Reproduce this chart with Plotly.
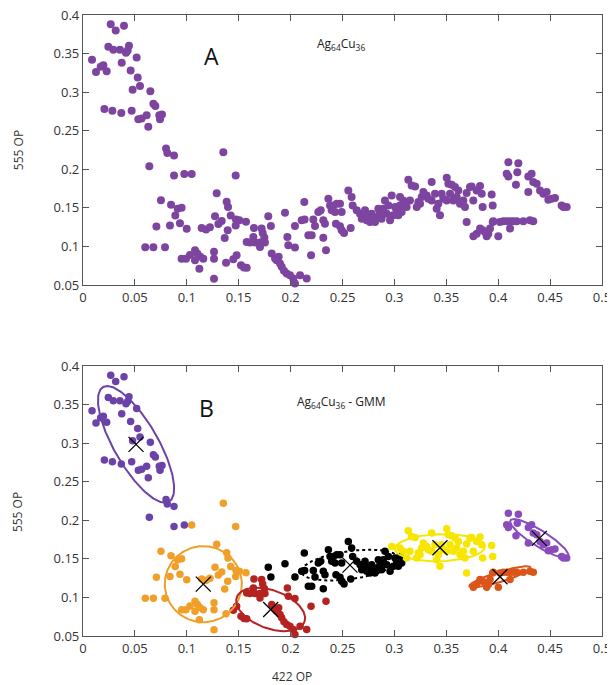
import numpy as np
import plotly.graph_objects as go

# ---------------- data (422 OP, 555 OP) per GMM cluster ----------------
purple1_x = [0.0267,0.0395,0.0315,0.0244,0.0292,0.0356,0.0443,0.0414,0.0430,0.0517,0.0373,0.0087,0.0125,0.0170,
             0.0196,0.0228,0.0459,0.0527,0.0549,0.0478,0.0649,0.0678,0.0697,0.0206,0.0283,0.0369,0.0469,0.0533,
             0.0565,0.0613,0.0629,0.0735,0.0761,0.0742,0.0800,0.0812,0.0877,0.0639,0.0877,0.0976]
purple1_y = [0.388,0.386,0.380,0.359,0.355,0.355,0.360,0.351,0.354,0.345,0.338,0.342,0.326,0.333,
             0.335,0.327,0.328,0.319,0.308,0.303,0.301,0.285,0.282,0.278,0.276,0.273,0.276,0.265,
             0.266,0.270,0.255,0.270,0.271,0.265,0.227,0.221,0.218,0.204,0.192,0.194]

orange_x = [0.1047,0.1352,0.1471,0.1288,0.0751,0.0848,0.0912,0.0950,0.0889,0.0934,0.0999,0.0707,0.0838,0.0600,
            0.0678,0.0790,0.0950,0.0992,0.1031,0.1079,0.1101,0.1127,0.1079,0.1121,0.1159,0.1262,0.1262,0.1262,
            0.1378,0.1185,0.1223,0.1143,0.1272,0.1304,0.1336,0.1394,0.1365,0.1384,0.1397,0.1423,0.1474,0.1471,
            0.1506,0.1570]
orange_y = [0.194,0.222,0.192,0.169,0.160,0.154,0.149,0.150,0.140,0.130,0.123,0.126,0.127,0.099,
            0.099,0.099,0.084,0.084,0.089,0.095,0.091,0.087,0.082,0.071,0.084,0.058,0.093,0.084,
            0.079,0.122,0.125,0.124,0.139,0.129,0.133,0.121,0.111,0.158,0.151,0.140,0.135,0.127,
            0.134,0.132]

red_x = [0.1522,0.1551,0.1577,0.1480,0.1448,0.1647,0.1721,0.1731,0.1641,0.1577,0.1609,0.1657,0.1705,0.1753,
         0.1705,0.1747,0.1818,0.1850,0.1885,0.1898,0.1914,0.1962,0.1994,0.2026,0.2042,0.2074,0.2091,0.2155,
         0.1978,0.2042,0.1969,0.2197,0.2341,0.1866,0.1936]
red_y = [0.0757,0.0727,0.0723,0.0886,0.0835,0.1239,0.1231,0.1175,0.1123,0.1059,0.1050,0.1050,0.1050,0.1050,
         0.0994,0.1115,0.0908,0.0843,0.0865,0.0779,0.0736,0.0649,0.0628,0.0585,0.0520,0.0499,0.0628,0.0585,
         0.1016,0.0985,0.1123,0.0886,0.0950,0.0822,0.0684]

black_x = [0.1785,0.1810,0.1946,0.2132,0.2042,0.2107,0.2135,0.2171,0.2203,0.2219,0.2235,0.2267,0.2290,0.2315,
           0.2331,0.2315,0.2364,0.2380,0.2396,0.2412,0.2444,0.2476,0.2492,0.2428,0.2437,0.2476,0.2492,0.2515,
           0.2556,0.2588,0.2579,0.2598,0.2637,0.2669,0.2701,0.2733,0.2765,0.2797,0.2829,0.2861,0.2893,0.2909,
           0.2942,0.2990,0.3022,0.2685,0.2717,0.2749,0.2781,0.2813,0.2845,0.2877,0.2926,0.2958,0.3006,0.3038,
           0.3054,0.3070]
black_y = [0.1390,0.1265,0.1438,0.1575,0.1265,0.1338,0.1350,0.1145,0.1145,0.1348,0.1265,0.1446,0.1468,0.1339,
           0.1295,0.1113,0.1618,0.1532,0.1468,0.1532,0.1554,0.1554,0.1446,0.1446,0.1295,0.1261,0.1209,0.1175,
           0.1726,0.1640,0.1240,0.1532,0.1468,0.1425,0.1382,0.1339,0.1317,0.1360,0.1382,0.1425,0.1489,0.1597,
           0.1532,0.1403,0.1468,0.1360,0.1468,0.1403,0.1425,0.1317,0.1489,0.1360,0.1425,0.1339,0.1511,0.1403,
           0.1532,0.1446]

yellow_x = [0.2974,0.3054,0.3086,0.3118,0.3134,0.3166,0.3199,0.3231,0.3247,0.3263,0.3279,0.3311,0.3327,0.3359,
            0.3391,0.3423,0.3439,0.3455,0.3504,0.3520,0.3552,0.3568,0.3584,0.3600,0.3632,0.3664,0.3680,0.3696,
            0.3696,0.3728,0.3744,0.3825,0.3841,0.3850,0.3937,0.3947,0.3150,0.3215,0.3359,0.3471,0.3536,0.3616,
            0.3760,0.3792,0.3504,0.3407]
yellow_y = [0.1661,0.1640,0.1597,0.1511,0.1864,0.1791,0.1778,0.1575,0.1554,0.1640,0.1705,0.1661,0.1618,0.1834,
            0.1683,0.1554,0.1403,0.1683,0.1890,0.1812,0.1799,0.1597,0.1769,0.1640,0.1554,0.1597,0.1511,0.1692,
            0.1317,0.1769,0.1778,0.1782,0.1683,0.1511,0.1674,0.1532,0.1597,0.1511,0.1597,0.1618,0.1683,0.1726,
            0.1597,0.1726,0.1597,0.1489]

orangered_x = [0.3761,0.3793,0.3825,0.3850,0.3873,0.3889,0.3905,0.3921,0.3947,0.4001,0.4017,0.4050,0.4082,
               0.4114,0.4114,0.4146,0.4178,0.4242,0.4306,0.4338,0.3953]
orangered_y = [0.1132,0.1166,0.1231,0.1209,0.1188,0.1132,0.1166,0.1231,0.1317,0.1132,0.1317,0.1326,0.1326,
               0.1326,0.1231,0.1326,0.1326,0.1326,0.1339,0.1326,0.1326]

purple2_x = [0.4098,0.4194,0.4184,0.4082,0.4098,0.4171,0.4290,0.4322,0.4290,0.4371,0.4403,0.4435,0.4467,
             0.4483,0.4515,0.4547,0.4611,0.4660,0.4628,0.4338]
purple2_y = [0.2092,0.2079,0.1963,0.1942,0.1907,0.1799,0.1907,0.1942,0.1705,0.1812,0.1726,0.1683,0.1705,
             0.1606,0.1618,0.1627,0.1532,0.1511,0.1511,0.1834]

# GMM component means and ellipse axis vectors (data units)
cluster_names = ["purple1", "orange", "red", "black", "yellow", "orangered", "purple2"]
mean_x = [0.0511, 0.1159, 0.1808, 0.2572, 0.3439, 0.4017, 0.4396]
mean_y = [0.2984, 0.1172, 0.0844, 0.1419, 0.1644, 0.1267, 0.1765]
axis_u = [(0.0318, -0.0742), (0.0371, 0.0), (0.0326, -0.0160), (0.0467, 0.0088),
          (0.0434, 0.0015), (0.0295, 0.0122), (0.0278, -0.0234)]
axis_v = [(-0.01835, -0.01427), (0.0, -0.0493), (-0.0063, -0.0232), (0.0019, -0.0180),
          (0.0, -0.0175), (0.0014, -0.0062), (-0.0041, -0.0088)]

x_ticks = [0, 0.05, 0.1, 0.15, 0.2, 0.25, 0.3, 0.35, 0.4, 0.45, 0.5]
y_ticks = [0.05, 0.1, 0.15, 0.2, 0.25, 0.3, 0.35, 0.4]

# ---------------- styling ----------------
cluster_x = [purple1_x, orange_x, red_x, black_x, yellow_x, orangered_x, purple2_x]
cluster_y = [purple1_y, orange_y, red_y, black_y, yellow_y, orangered_y, purple2_y]
cluster_colors = ["#6b42a8", "#f0a02a", "#b52222", "#000000", "#f7e600", "#dc5518", "#8a4cbc"]
ellipse_dash = ["solid", "solid", "solid", "dot", "solid", "solid", "solid"]
top_color = "#7d45a0"
FONT = "Open Sans"

fig = go.Figure()

all_x = sum(cluster_x, [])
all_y = sum(cluster_y, [])
fig.add_trace(go.Scatter(x=all_x, y=all_y, mode="markers", xaxis="x", yaxis="y",
                         marker=dict(color=top_color, size=8), cliponaxis=False, showlegend=False))

t = np.linspace(0, 2 * np.pi, 200)
for i in range(len(cluster_names)):
    fig.add_trace(go.Scatter(x=cluster_x[i], y=cluster_y[i], mode="markers", xaxis="x2", yaxis="y2",
                             marker=dict(color=cluster_colors[i], size=7.5), cliponaxis=False, showlegend=False))
for i in range(len(cluster_names)):
    ex = mean_x[i] + axis_u[i][0] * np.cos(t) + axis_v[i][0] * np.sin(t)
    ey = mean_y[i] + axis_u[i][1] * np.cos(t) + axis_v[i][1] * np.sin(t)
    fig.add_trace(go.Scatter(x=ex, y=ey, mode="lines", xaxis="x2", yaxis="y2",
                             line=dict(color=cluster_colors[i], width=2, dash=ellipse_dash[i]),
                             showlegend=False, hoverinfo="skip"))
fig.add_trace(go.Scatter(x=mean_x, y=mean_y, mode="markers", xaxis="x2", yaxis="y2",
                         marker=dict(symbol="x-thin", size=15, line=dict(color="black", width=1.3)),
                         showlegend=False))

axis_common = dict(showline=True, linecolor="#555555", linewidth=1.3, mirror="ticks", ticks="inside",
                   ticklen=6, tickcolor="#555555", showgrid=False, zeroline=False, automargin=False,
                   ticklabeloverflow="allow",
                   tickfont=dict(family=FONT, size=13, color="#333333"))

# the page body adds an 8 px offset, so the figure is 8 px smaller on each side
fig.update_layout(
    width=607, height=677,
    margin=dict(l=75, r=13, t=7, b=49, autoexpand=False),
    paper_bgcolor="white", plot_bgcolor="white",
    font=dict(family=FONT, color="#333333"),
    xaxis=dict(domain=[0, 1], anchor="y", range=[0, 0.5], tickvals=x_ticks, **axis_common),
    yaxis=dict(domain=[0.5652, 1], anchor="x", range=[0.05, 0.4], tickvals=y_ticks, **axis_common),
    xaxis2=dict(domain=[0, 1], anchor="y2", range=[0, 0.5], tickvals=x_ticks, **axis_common),
    yaxis2=dict(domain=[0, 0.4348], anchor="x2", range=[0.05, 0.4], tickvals=y_ticks, **axis_common),
)

ann = [
    dict(text="A", x=0.124, y=0.347, xref="x", yref="y", font=dict(size=23, color="#111")),
    dict(text="Ag<sub>64</sub>Cu<sub>36</sub>", x=0.2486, y=0.3625, xref="x", yref="y",
         font=dict(size=12, color="#222")),
    dict(text="B", x=0.119, y=0.345, xref="x2", yref="y2", font=dict(size=23, color="#111")),
    dict(text="Ag<sub>64</sub>Cu<sub>36</sub> - GMM", x=0.2486, y=0.353, xref="x2", yref="y2",
         font=dict(size=12, color="#222")),
    dict(text="555 OP", x=-0.125, y=0.7826, xref="paper", yref="paper", textangle=-90,
         font=dict(size=12, color="#333")),
    dict(text="555 OP", x=-0.125, y=0.1997, xref="paper", yref="paper", textangle=-90,
         font=dict(size=12, color="#333")),
    dict(text="422 OP", x=0.403, y=-0.066, xref="paper", yref="paper",
         font=dict(size=12, color="#333")),
]
for a in ann:
    a.update(showarrow=False, xanchor="center", yanchor="middle")
fig.update_layout(annotations=ann)

fig.write_html("out.html")
